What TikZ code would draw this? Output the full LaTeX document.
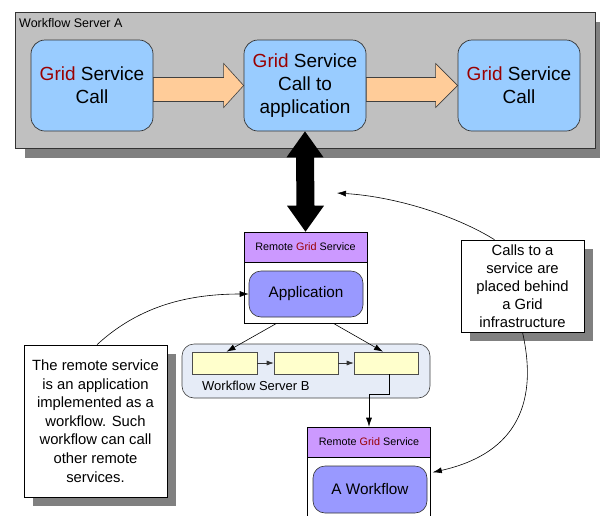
\documentclass[tikz,border=0pt]{standalone}
\usepackage{fontspec}
\setmainfont{Liberation Sans}
\usetikzlibrary{arrows.meta,calc,shadows}
\definecolor{gridred}{HTML}{990000}
\definecolor{servergray}{HTML}{C0C0C0}
\definecolor{shadowgray}{HTML}{808080}
\definecolor{callblue}{HTML}{99CCFF}
\definecolor{flowarrow}{HTML}{FFCC99}
\definecolor{headpurple}{HTML}{CC99FF}
\definecolor{apppurple}{HTML}{9999FF}
\definecolor{serverb}{HTML}{E6ECF7}
\definecolor{taskyellow}{HTML}{FFFFCC}
\newcommand{\gridword}{\textcolor{gridred}{Grid}}
\begin{document}
\begin{tikzpicture}[x=1pt,y=-1pt,
  dropsh/.style={drop shadow={shadow xshift=#1, shadow yshift=-#1, fill=shadowgray, opacity=1}},
  serverbox/.style={draw=black!80, line width=0.7pt, fill=servergray, minimum width=580pt, minimum height=136pt, inner sep=0pt, dropsh=10pt},
  callbox/.style={draw=black!80, line width=0.7pt, fill=callblue, rounded corners=14pt, minimum width=122pt, minimum height=91pt, inner sep=0pt, align=center, font=\fontsize{19}{23}\selectfont},
  headbox/.style={draw=black, line width=0.6pt, fill=headpurple, minimum width=123pt, minimum height=30pt, inner sep=0pt, font=\fontsize{10.8}{12}\selectfont},
  bodybox/.style={draw=black, line width=0.6pt, fill=white, minimum width=123pt, inner sep=0pt},
  appbox/.style={draw=black!80, line width=0.6pt, fill=apppurple, rounded corners=12pt, minimum width=114pt, minimum height=46pt, inner sep=0pt, font=\fontsize{15.3}{18}\selectfont},
  taskbox/.style={draw=black!70, line width=0.6pt, fill=taskyellow, minimum height=22pt, inner sep=0pt},
  notebox/.style={draw=black, line width=0.6pt, fill=white, inner sep=0pt, align=center, dropsh=9pt},
  link/.style={draw=black, line width=0.6pt, -{Latex[length=9pt,width=6pt]}},
  smalllink/.style={draw=black!80, line width=0.6pt, -{Latex[length=7pt,width=5pt]}},
  blockarrow/.style={draw=black!75, line width=0.6pt, fill=flowarrow}
]
\useasboundingbox (0,0) rectangle (600,515);

% Workflow Server A and its three calls
\node[serverbox] (srvA) at (305,80) {};
\node[anchor=west, font=\fontsize{12.5}{14}\selectfont, inner sep=0pt] (srvAlabel) at (19,23) {Workflow Server A};
\node[callbox] (b1) at (92,85.5) {\gridword{} Service\\Call};
\node[callbox] (b2) at (305,85.5) {\gridword{} Service\\Call to\\application};
\node[callbox] (b3) at (519,85.5) {\gridword{} Service\\Call};

% wide flow arrows between the calls
\draw[blockarrow] ($(b1.east)+(0,-8)$) -- ($(b2.west)+(-20,-8)$) -- ($(b2.west)+(-20,-22)$)
  -- (b2.west) -- ($(b2.west)+(-20,22)$) -- ($(b2.west)+(-20,16)$) -- ($(b1.east)+(0,16)$) -- cycle;
\draw[blockarrow] ($(b2.east)+(0,-8)$) -- ($(b3.west)+(-22,-8)$) -- ($(b3.west)+(-22,-22)$)
  -- (b3.west) -- ($(b3.west)+(-22,22)$) -- ($(b3.west)+(-22,16)$) -- ($(b2.east)+(0,16)$) -- cycle;

% Remote Grid Service hosting the application
\node[headbox] (r1head) at (305.5,247) {Remote \gridword{} Service};
\node[bodybox, minimum height=61pt] (r1body) at (305.5,292.5) {};
\node[appbox] (app) at (306,294) {Application};

% thick two-way arrow between the call and the remote service
\fill[black] (b2.south) -- ++(18.5,26) -- ++(-9.5,0) -- ($(r1head.north)+(9,-26)$) -- ++(9.5,0)
  -- (r1head.north) -- ++(-18.5,-26) -- ++(9.5,0) -- ($(b2.south)+(-9,26)$) -- ++(-9.5,0) -- cycle;

% Workflow Server B
\node[draw=black!75, line width=0.6pt, fill=serverb, rounded corners=12pt, minimum width=248pt, minimum height=54pt, inner sep=0pt] (srvB) at (306,371) {};
\node[anchor=west, font=\fontsize{13}{15}\selectfont, inner sep=0pt] (srvBlabel) at (202,386) {Workflow Server B};
\node[taskbox, minimum width=65pt] (y1) at (224.5,363) {};
\node[taskbox, minimum width=64pt] (y2) at (306,363) {};
\node[taskbox, minimum width=64pt] (y3) at (386,363) {};
\draw[smalllink] (y1) -- (y2);
\draw[smalllink] (y2) -- (y3);
\draw[link] ($(r1body.south west)+(33,0)$) -- ($(y1.north)+(2,0)$);
\draw[link] ($(r1body.south east)+(-34,0)$) -- ($(y3.north)+(-3,0)$);

% Remote Grid Service hosting a workflow
\node[headbox] (r2head) at (369,442) {Remote \gridword{} Service};
\node[bodybox, minimum height=63pt] (r2body) at (369,488.5) {};
\node[appbox, minimum height=47pt] (wf) at (370,489.5) {A Workflow};
\draw[link] ($(y3.south)+(3,0)$) -- ++(0,20) -| (r2head.north);

% notes
\node[notebox, minimum width=143pt, minimum height=152pt, font=\fontsize{14.8}{18.6}\selectfont] (note1) at (95.5,421)
  {The remote service\\is an application\\implemented as a\\workflow. Such\\workflow can call\\other remote\\services.};
\node[notebox, minimum width=123pt, minimum height=92pt, font=\fontsize{14.8}{18}\selectfont] (note2) at (522.5,286)
  {Calls to a\\service are\\placed behind\\a Grid\\infrastructure};

\coordinate (gridtip) at (337,193);
\coordinate (wfside) at ($(r2head.south east)+(2,15)$);
\draw[link] ($(note1.north)+(1.5,0)$) .. controls (140,305) and (190,294) .. (app.west);
\draw[link] ($(note2.north)+(-28,0)$) .. controls (460,218) and (400,197) .. (gridtip);
\draw[link] (note2.south) .. controls (540,410) and (510,455) .. (wfside);
\end{tikzpicture}
\end{document}
